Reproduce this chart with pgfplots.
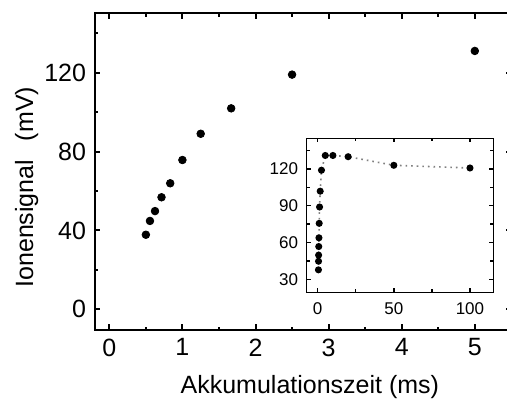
\documentclass[border=0pt]{standalone}
\usepackage{fontspec}
\setmainfont{Liberation Sans}
\usepackage{pgfplots}
\pgfplotsset{compat=1.18}
\begin{document}
\fontsize{12.5}{15}\selectfont
\begin{tikzpicture}
\path[use as bounding box] (-47.35pt,-34.5pt) rectangle (206.15pt,165pt);
\clip (-47.35pt,-34.5pt) rectangle (206.15pt,165pt);
\begin{axis}[
  at={(0pt,0pt)}, anchor=south west,
  scale only axis, x=36.55pt, y=0.986pt,
  xmin=-0.2, xmax=5.5, ymin=-10.5, ymax=150,
  xtick={0,1,2,3,4,5}, minor xtick={0.5,1.5,2.5,3.5,4.5},
  ytick={0,40,80,120}, minor ytick={20,60,100,140},
  tick align=inside,
  major tick length=2.8pt, minor tick length=1.6pt,
  axis line style={line width=1pt},
  every tick/.style={black, line width=1pt},
  /pgf/number format/assume math mode=true,
  tick label style={font=\fontsize{12.5}{15}\selectfont},
  label style={font=\fontsize{12.4}{15}\selectfont},
  xlabel={Akkumulationszeit (ms)},
  ylabel={Ionensignal\hspace{0.75em}(mV)},
  every axis x label/.style={at={(axis description cs:0.5164,-0.2019)}, anchor=base},
  every axis y label/.style={at={(axis description cs:-0.148,0.451)}, anchor=base, rotate=90},
]
\addplot[only marks, mark=*, mark size=1.9pt, black] coordinates {
 (0.5,37.8) (0.556,44.8) (0.625,49.8) (0.714,56.8) (0.833,63.9) (1.0,75.7)
 (1.25,89) (1.667,101.9) (2.5,119) (5.0,131)
};
\end{axis}
\begin{axis}[
  at={(106pt,18.85pt)}, anchor=south west,
  scale only axis, x=0.7615pt, y=0.6135pt,
  xmin=-7.2, xmax=115.3, ymin=19.5, ymax=145,
  xtick={0,50,100}, minor xtick={25,75},
  ytick={30,60,90,120}, minor ytick={45,75,105,135},
  tick align=inside,
  major tick length=2pt, minor tick length=1.4pt,
  axis line style={line width=0.7pt},
  every tick/.style={black, line width=0.7pt},
  /pgf/number format/assume math mode=true,
  tick label style={font=\fontsize{8.5}{10}\selectfont},
  xticklabel style={yshift=-0.8pt},
  axis background/.style={fill=white},
]
\addplot[gray, dotted, line width=0.8pt, mark=*, mark size=1.35pt, mark options={solid, fill=black, draw=black}] coordinates {
 (0.5,37.8) (0.556,44.8) (0.625,49.8) (0.714,56.8) (0.833,63.9) (1.0,75.7)
 (1.25,89) (1.667,101.9) (2.5,119) (5.0,131) (10,131) (20,130) (50,123) (100,120.8)
};
\end{axis}
\end{tikzpicture}
\end{document}
